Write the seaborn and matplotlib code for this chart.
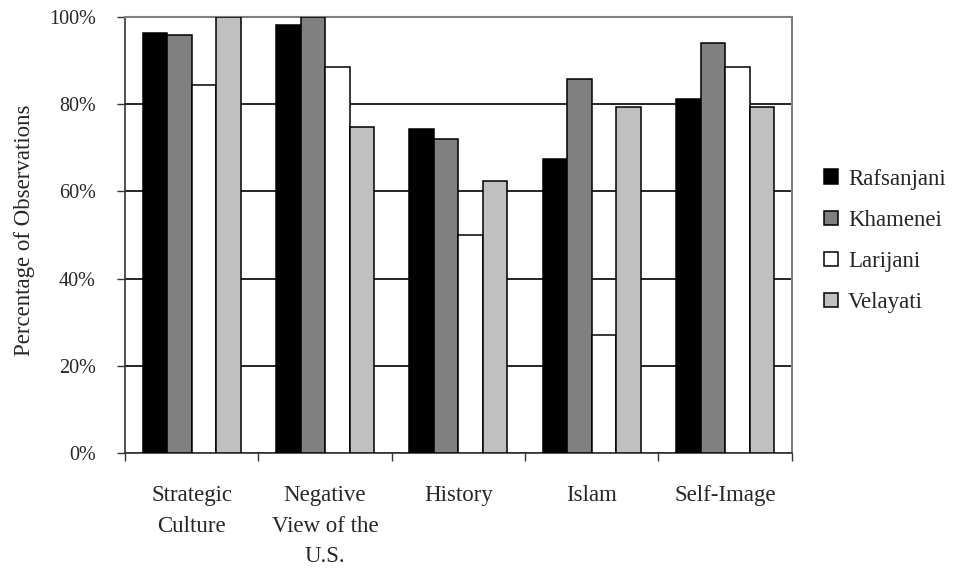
import numpy as np
import pandas as pd
import matplotlib
matplotlib.use("Agg")
import matplotlib.pyplot as plt
import seaborn as sns
from matplotlib.ticker import PercentFormatter

# ── Data ──────────────────────────────────────────────────────────────────────
categories = ["Strategic\nCulture", "Negative\nView of the\nU.S.", "History",
              "Islam", "Self-Image"]
leaders    = ["Rafsanjani", "Khamenei", "Larijani", "Velayati"]
rafsanjani = [96.3, 98.2, 74.2, 67.4, 81.2]
khamenei   = [95.9, 100.0, 71.9, 85.7, 94.0]
larijani   = [84.3, 88.5, 50.0, 27.0, 88.5]
velayati   = [100.0, 74.7, 62.4, 79.3, 79.3]
colors     = ["#000000", "#808080", "#ffffff", "#c0c0c0"]

series = [rafsanjani, khamenei, larijani, velayati]
df = pd.DataFrame({
    "category": [c for _ in leaders for c in categories],
    "leader":   [l for l in leaders for _ in categories],
    "value":    [v for s in series for v in s],
})

# ── Style ─────────────────────────────────────────────────────────────────────
sns.set_theme(style="white")
plt.rcParams["font.family"] = ["Liberation Serif", "DejaVu Serif"]
LABEL_SIZE = 16.5
TICK_SIZE  = 14.5

fig = plt.figure(figsize=(9.54, 5.71), dpi=100)
ax = fig.add_axes([0.131, 0.2067, 0.699, 0.7636])

sns.barplot(data=df, x="category", y="value", hue="leader",
            order=categories, hue_order=leaders, palette=colors,
            width=0.735, edgecolor="black", linewidth=1.1,
            saturation=1, ax=ax, zorder=3)

# ── Axes ──────────────────────────────────────────────────────────────────────
ax.set_ylim(0, 100)
ax.set_xlim(-0.5, len(categories) - 0.5)
ax.set_yticks(range(0, 101, 20))
ax.yaxis.set_major_formatter(PercentFormatter(decimals=0))
ax.yaxis.grid(True, color="black", linewidth=1.2)
ax.set_axisbelow(True)

# ticks between the groups, labels centred under them
ax.set_xticks(np.arange(-0.5, len(categories), 1.0))
ax.set_xticklabels([])
ax.set_xticks(range(len(categories)), minor=True)
ax.set_xticklabels(categories, minor=True)
for lbl in ax.get_xticklabels(minor=True):
    lbl.set_linespacing(1.6)
ax.tick_params(axis="x", which="major", direction="out", length=6,
               width=1, color="#333333", bottom=True)
ax.tick_params(axis="x", which="minor", length=0, pad=23,
               labelsize=LABEL_SIZE)
ax.tick_params(axis="y", direction="out", length=6, width=1,
               color="#333333", left=True, pad=15, labelsize=TICK_SIZE)

ax.set_xlabel("")
ax.set_ylabel("Percentage of Observations", fontsize=LABEL_SIZE)
ax.yaxis.set_label_coords(-0.135, 0.51)

for side in ["left", "bottom"]:
    ax.spines[side].set_color("#333333")
    ax.spines[side].set_linewidth(1.2)
for side in ["top", "right"]:
    ax.spines[side].set_color("#808080")
    ax.spines[side].set_linewidth(1.5)

# ── Legend ────────────────────────────────────────────────────────────────────
handles, labels = ax.get_legend_handles_labels()
ax.legend(handles, labels, loc="center left", bbox_to_anchor=(0.8637, 0.578),
          bbox_transform=fig.transFigure, frameon=False, fontsize=LABEL_SIZE,
          handlelength=0.6, handleheight=0.6, handletextpad=0.45,
          labelspacing=0.88, borderpad=0, borderaxespad=0)

fig.savefig("out.png", dpi=100)
